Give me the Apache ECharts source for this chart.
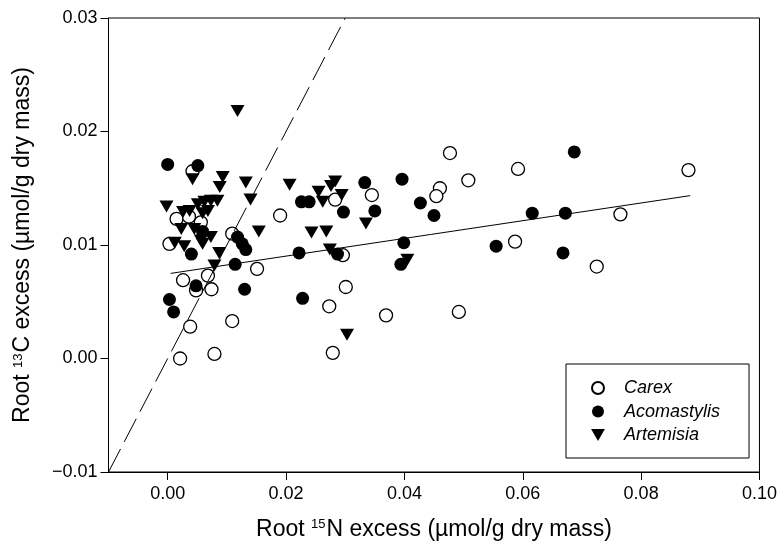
<!DOCTYPE html>
<html>
<head>
<meta charset="utf-8">
<script src="https://cdn.jsdelivr.net/npm/echarts@6/dist/echarts.min.js"></script>
<style>
html,body{margin:0;padding:0;background:#fff;}
#chart{width:780px;height:546px;}
</style>
</head>
<body>
<div id="chart"></div>
<script>
// ---- Data ----
const carex = [
  [0.0477,0.0181],[0.0508,0.0157],[0.0460,0.0150],[0.0454,0.0143],[0.0283,0.0140],
  [0.0345,0.0144],[0.0296,0.0091],[0.0190,0.0126],[0.0592,0.0167],[0.0880,0.0166],
  [0.0765,0.0127],[0.0587,0.0103],[0.0725,0.0081],[0.0042,0.0165],[0.0015,0.0123],
  [0.0036,0.0125],[0.0056,0.0120],[0.0109,0.0110],[0.0003,0.0101],[0.0151,0.0079],
  [0.0026,0.0069],[0.0068,0.0073],[0.0048,0.0060],[0.0074,0.0061],[0.0038,0.0028],
  [0.0109,0.0033],[0.0021,0.0000],[0.0079,0.0004],[0.0301,0.0063],[0.0273,0.0046],
  [0.0369,0.0038],[0.0492,0.0041],[0.0279,0.0005]
];
const acomastylis = [
  [0.0000,0.0171],[0.0051,0.0170],[0.0333,0.0155],[0.0396,0.0158],[0.0226,0.0138],
  [0.0239,0.0138],[0.0297,0.0129],[0.0350,0.0130],[0.0427,0.0137],[0.0450,0.0126],
  [0.0399,0.0102],[0.0222,0.0093],[0.0287,0.0092],[0.0394,0.0083],[0.0687,0.0182],
  [0.0616,0.0128],[0.0672,0.0128],[0.0555,0.0099],[0.0668,0.0093],[0.0059,0.0112],
  [0.0118,0.0107],[0.0126,0.0101],[0.0132,0.0096],[0.0040,0.0092],[0.0114,0.0083],
  [0.0048,0.0064],[0.0130,0.0061],[0.0003,0.0052],[0.0010,0.0041],[0.0228,0.0053]
];
const artemisia = [
  [0.0118,0.0218],[0.0042,0.0158],[0.0093,0.0160],[0.0088,0.0151],[0.0132,0.0155],
  [0.0206,0.0153],[0.0140,0.0140],[-0.0002,0.0134],[0.0026,0.0129],[0.0037,0.0130],
  [0.0051,0.0136],[0.0062,0.0138],[0.0073,0.0139],[0.0084,0.0139],[0.0068,0.0130],
  [0.0059,0.0128],[0.0023,0.0114],[0.0045,0.0114],[0.0056,0.0104],[0.0073,0.0107],
  [0.0154,0.0112],[0.0012,0.0102],[0.0028,0.0099],[0.0059,0.0101],[0.0087,0.0093],
  [0.0079,0.0082],[0.0283,0.0156],[0.0276,0.0152],[0.0255,0.0147],[0.0294,0.0144],
  [0.0262,0.0138],[0.0335,0.0119],[0.0243,0.0111],[0.0268,0.0112],[0.0274,0.0096],
  [0.0405,0.0087],[0.0303,0.0021]
];
const regressionLine = [[0.0005,0.0075],[0.0883,0.01435]];
const oneToOneLine = [[-0.01,-0.01],[0.03,0.03]];
const xTicks = [0.00,0.02,0.04,0.06,0.08,0.10];
const yTicks = [-0.01,0.00,0.01,0.02,0.03];
const seriesNames = ['Carex','Acomastylis','Artemisia'];

function fmt(v){
  const s = Math.abs(v).toFixed(2);
  return v < -1e-9 ? '\u2212' + s : s;
}

const chart = echarts.init(document.getElementById('chart'), null, {renderer:'canvas'});
const font = 'Liberation Sans, Arial, sans-serif';
const downTri = 'path://M0,0 L10,0 L5,8.66 Z';
const titleRich = {
  a:{fontSize:23, fontFamily:font, color:'#000'},
  s:{fontSize:13, fontFamily:font, color:'#000', verticalAlign:'top', padding:[0,1,10,0]}
};

chart.setOption({
  backgroundColor:'#fff',
  animation:false,
  grid:{left:108.5, right:14.3, top:18, bottom:70, show:true, borderColor:'#000', borderWidth:1, backgroundColor:'transparent'},
  xAxis:{
    type:'value', min:-0.01, max:0.10,
    axisLine:{show:true, onZero:false, lineStyle:{color:'#000', width:1}},
    axisTick:{show:true, customValues:xTicks, length:8, lineStyle:{color:'#000'}},
    axisLabel:{customValues:xTicks, formatter:fmt, color:'#000', fontSize:18, fontFamily:font, margin:13},
    splitLine:{show:false},
    name:'{a|Root }{s|15}{a|N excess (\u00b5mol/g dry mass)}',
    nameLocation:'middle', nameGap:46,
    nameTextStyle:{rich:titleRich}
  },
  yAxis:{
    type:'value', min:-0.01, max:0.03, interval:0.01,
    axisLine:{show:true, onZero:false, lineStyle:{color:'#000', width:1}},
    axisTick:{show:true, length:8, lineStyle:{color:'#000'}},
    axisLabel:{formatter:fmt, color:'#000', fontSize:18, fontFamily:font, margin:11},
    splitLine:{show:false},
    name:'{a|Root }{s|13}{a|C excess (\u00b5mol/g dry mass)}',
    nameLocation:'middle', nameGap:74,
    nameTextStyle:{rich:titleRich}
  },
  legend:{
    orient:'vertical', left:566, top:364,
    backgroundColor:'#fff',
    borderColor:'#000', borderWidth:1,
    padding:[15,29,14,25],
    itemWidth:42, itemHeight:12, itemGap:5.5,
    symbolKeepAspect:true,
    textStyle:{fontSize:18, fontStyle:'italic', fontFamily:font, color:'#000'},
    data:[
      {name:seriesNames[0], icon:'circle'},
      {name:seriesNames[1], icon:'circle'},
      {name:seriesNames[2], icon:downTri}
    ]
  },
  series:[
    {name:seriesNames[0], type:'scatter', data:carex, symbol:'circle', symbolSize:13, z:3,
     itemStyle:{color:'#fff', borderColor:'#000', borderWidth:1.3, opacity:1}},
    {name:seriesNames[1], type:'scatter', data:acomastylis, symbol:'circle', symbolSize:13, z:3,
     itemStyle:{color:'#000', borderColor:'#000', borderWidth:0, opacity:1}},
    {name:seriesNames[2], type:'scatter', data:artemisia, symbol:downTri, symbolSize:[14,12], z:3,
     itemStyle:{color:'#000', borderWidth:0, opacity:1}},
    {name:'regression', type:'line', data:regressionLine, symbol:'none', z:4, silent:true,
     lineStyle:{color:'#000', width:1}},
    {name:'1:1', type:'line', data:oneToOneLine, symbol:'none', z:4, silent:true,
     lineStyle:{color:'#000', width:1, type:[26,8]}}
  ]
});
</script>
</body>
</html>
